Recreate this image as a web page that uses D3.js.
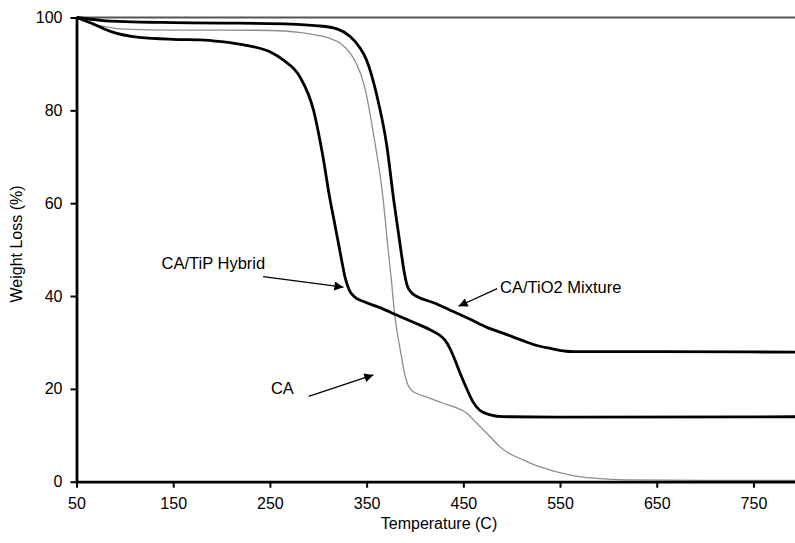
<!DOCTYPE html>
<html>
<head>
<meta charset="utf-8">
<script src="https://cdn.jsdelivr.net/npm/d3@7"></script>
<style>
  body { margin: 0; background: #fff; }
  svg { display: block; font-family: "Liberation Sans", Arial, sans-serif; }
</style>
</head>
<body>
<div id="chart"></div>
<script>
// TGA curves, temperature (C) vs weight (%)
const mixtureTemp = [50, 75, 100, 150, 200, 250, 300, 320, 333, 343, 350, 360, 371, 378, 385, 389, 392, 397, 402, 420, 436, 457, 475, 491, 510, 525, 540, 556, 564, 650, 800];
const mixtureWt   = [100, 99.4, 99.1, 98.9, 98.8, 98.7, 98.2, 97.5, 95.9, 93.5, 90.8, 83.7, 72.2, 60.7, 50.5, 45, 42.2, 40.6, 39.9, 38.5, 37, 35, 33.2, 32, 30.5, 29.4, 28.7, 28.1, 28, 28, 27.9];

const hybridTemp = [50, 65, 85, 115, 150, 178, 200, 223, 250, 264, 281, 295, 304, 312, 318, 323, 328, 332, 337, 347, 365, 381, 400, 416, 426, 431, 436, 440, 447, 454, 460, 467, 478, 491, 550, 800];
const hybridWt   = [100, 98.8, 97, 95.7, 95.3, 95.2, 94.8, 94.1, 92.6, 90.8, 87.2, 80.1, 71, 61, 54.5, 49, 43.8, 41.3, 39.9, 38.8, 37.4, 35.9, 34.2, 32.7, 31.5, 30.5, 28.8, 26.9, 23.2, 19.8, 17.2, 15.4, 14.4, 14, 13.9, 14];

const caTemp = [50, 65, 85, 100, 150, 200, 250, 280, 298, 312, 323, 333, 340, 347, 352, 357, 361, 364, 367, 372, 376, 379, 383, 386, 389, 392, 396, 402, 415, 429, 442, 454, 462, 471, 480, 488, 500, 512, 525, 540, 553, 570, 588, 620, 700, 800];
const caWt   = [100, 98.8, 97.8, 97.5, 97.3, 97.3, 97.2, 96.8, 96.2, 95.5, 94.4, 92.3, 89.8, 85.8, 81, 75, 70, 66, 61, 50.5, 42.5, 36, 30.5, 27, 23.5, 21.2, 19.8, 19, 18, 16.9, 16, 14.7, 13, 11.1, 9.2, 7.5, 5.8, 4.7, 3.5, 2.5, 1.8, 1.1, 0.7, 0.4, 0.3, 0.3];

const xTicks = [50, 150, 250, 350, 450, 550, 650, 750];
const yTicks = [0, 20, 40, 60, 80, 100];

// annotations: label, text anchor point, arrow start, arrow end (data units)
const notes = [
  { label: "CA/TiP Hybrid", tx: 138, ty: 45.9, x1: 243, y1: 44.2, x2: 326, y2: 41.9 },
  { label: "CA/TiO2 Mixture", tx: 488, ty: 40.6, x1: 485, y1: 41.6, x2: 445, y2: 37.8 },
  { label: "CA", tx: 251, ty: 19, x1: 290, y1: 18.4, x2: 357, y2: 23.0 }
];

const width = 795, height = 543;
const x = d3.scaleLinear().domain([50, 800]).range([76.5, 801.8]);
const y = d3.scaleLinear().domain([0, 100]).range([481.7, 17.5]);

const svg = d3.select("#chart").append("svg")
  .attr("width", width)
  .attr("height", height);

svg.append("defs").append("marker")
  .attr("id", "head")
  .attr("viewBox", "0 0 10 10")
  .attr("refX", 10).attr("refY", 5)
  .attr("markerWidth", 13).attr("markerHeight", 9)
  .attr("markerUnits", "userSpaceOnUse")
  .attr("orient", "auto")
  .append("path")
  .attr("d", "M0,0 L10,5 L0,10 Z")
  .attr("fill", "#000");

// top border line at 100
svg.append("line")
  .attr("x1", x(50)).attr("x2", width)
  .attr("y1", y(100)).attr("y2", y(100))
  .attr("stroke", "#555").attr("stroke-width", 2);

const line = d3.line()
  .x(d => x(d[0]))
  .y(d => y(d[1]))
  .curve(d3.curveMonotoneX);

function series(t, w) { return t.map((v, i) => [v, w[i]]); }

svg.append("path")
  .datum(series(caTemp, caWt))
  .attr("d", line)
  .attr("fill", "none")
  .attr("stroke", "#8c8c8c")
  .attr("stroke-width", 1.3);

[series(hybridTemp, hybridWt), series(mixtureTemp, mixtureWt)].forEach(s => {
  svg.append("path")
    .datum(s)
    .attr("d", line)
    .attr("fill", "none")
    .attr("stroke", "#000")
    .attr("stroke-width", 2.8);
});

// axes
const xAxis = svg.append("g")
  .attr("transform", `translate(0,${y(0)})`)
  .call(d3.axisBottom(x).tickValues(xTicks).tickSize(6).tickPadding(10).tickSizeOuter(0));
const yAxis = svg.append("g")
  .attr("transform", `translate(${x(50)},0)`)
  .call(d3.axisLeft(y).tickValues(yTicks).tickSize(6).tickPadding(8).tickSizeOuter(0));

[xAxis, yAxis].forEach(g => {
  g.select(".domain").attr("stroke", "#000").attr("stroke-width", 2.8);
  g.selectAll(".tick line").attr("stroke", "#000").attr("stroke-width", 2);
  g.selectAll(".tick text")
    .attr("fill", "#000")
    .style("font-size", "16px")
    .style("font-family", "'Liberation Sans', Arial, sans-serif");
});

svg.append("text")
  .attr("x", 439).attr("y", 528.5)
  .attr("text-anchor", "middle")
  .style("font-size", "16px")
  .text("Temperature (C)");

svg.append("text")
  .attr("transform", `translate(22,244) rotate(-90)`)
  .attr("text-anchor", "middle")
  .style("font-size", "16px")
  .text("Weight Loss (%)");

// annotations
notes.forEach(n => {
  svg.append("text")
    .attr("x", x(n.tx)).attr("y", y(n.ty))
    .style("font-size", "16.5px")
    .text(n.label);
  svg.append("line")
    .attr("x1", x(n.x1)).attr("y1", y(n.y1))
    .attr("x2", x(n.x2)).attr("y2", y(n.y2))
    .attr("stroke", "#000").attr("stroke-width", 1.3)
    .attr("marker-end", "url(#head)");
});
</script>
</body>
</html>
